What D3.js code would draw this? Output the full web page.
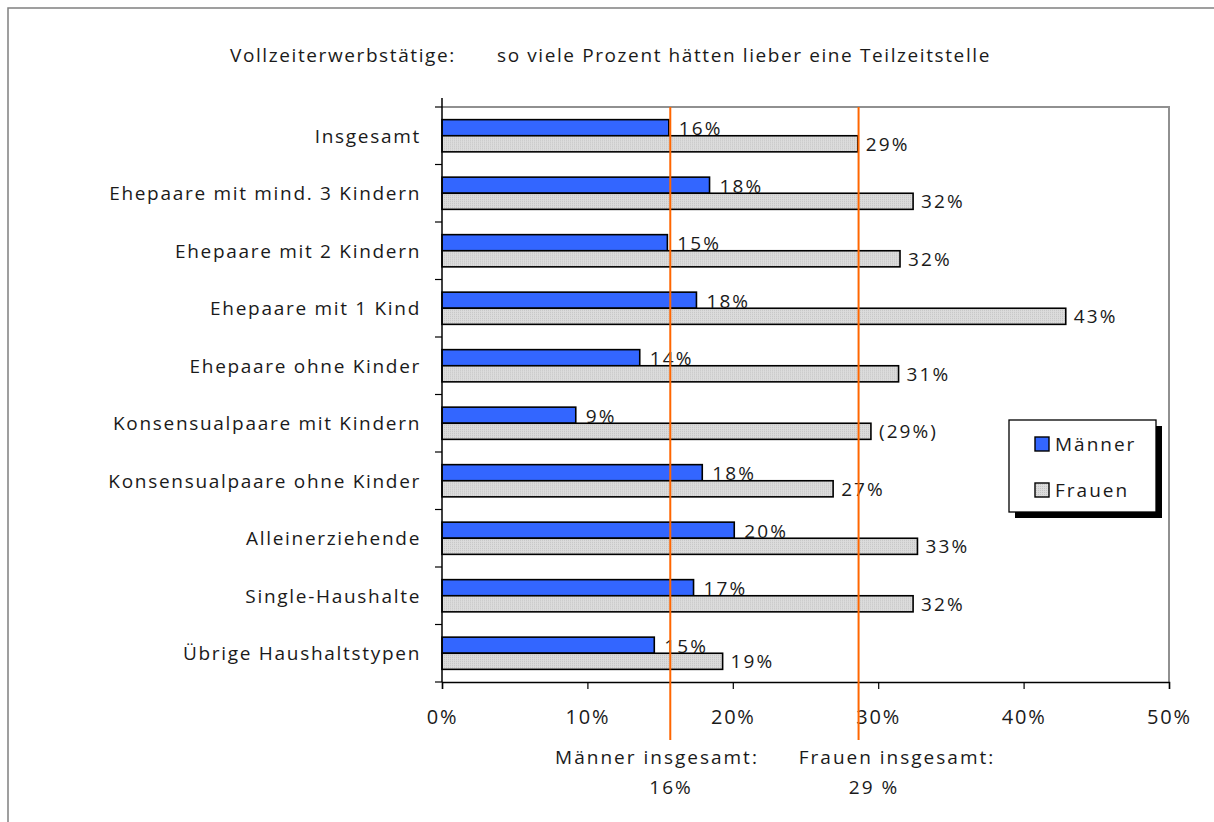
<!DOCTYPE html>
<html><head><meta charset="utf-8">
<script src="https://cdn.jsdelivr.net/npm/d3@7"></script>
<style>
body{margin:0;background:#fff;}
text{font-family:"Open Sans","DejaVu Sans",sans-serif;fill:#1a1a1a;}
</style></head>
<body>
<svg id="chart" width="1214" height="822"></svg>
<script>
const categories = ["Insgesamt","Ehepaare mit mind. 3 Kindern","Ehepaare mit 2 Kindern","Ehepaare mit 1 Kind","Ehepaare ohne Kinder","Konsensualpaare mit Kindern","Konsensualpaare ohne Kinder","Alleinerziehende","Single-Haushalte","Übrige Haushaltstypen"];
const maenner = [15.6,18.4,15.5,17.5,13.6,9.2,17.9,20.1,17.3,14.6];
const frauen = [28.6,32.4,31.5,42.9,31.4,29.5,26.9,32.7,32.4,19.3];
const maennerLabels = ["16%","18%","15%","18%","14%","9%","18%","20%","17%","15%"];
const frauenLabels = ["29%","32%","32%","43%","31%","(29%)","27%","33%","32%","19%"];
const xTicks = [0,10,20,30,40,50];
const seriesNames = ["Männer","Frauen"];
const refValues = [15.7,28.65];
const refLabels = [["Männer insgesamt:","16%"],["Frauen insgesamt:","29 %"]];
const titleParts = ["Vollzeiterwerbstätige:","so viele Prozent hätten lieber eine Teilzeitstelle"];

const svg = d3.select("#chart");
const defs = svg.append("defs");
const pat = defs.append("pattern").attr("id","dots").attr("width",2).attr("height",2).attr("patternUnits","userSpaceOnUse");
pat.append("rect").attr("width",2).attr("height",2).attr("fill","#dcdcdc");
pat.append("rect").attr("width",1).attr("height",1).attr("fill","#c4c4c4");

const FS = 19, LS = 1.7;

// outer frame
svg.append("rect").attr("x",8).attr("y",8).attr("width",1400).attr("height",1000)
  .attr("fill","none").attr("stroke","#808080").attr("stroke-width",1.5);

const pL=442, pR=1169, pT=107, pB=682;
const x = d3.scaleLinear().domain([0,50]).range([pL,pR]);
const y = d3.scaleBand().domain(categories).range([pT,pB]).paddingInner(0.44).paddingOuter(0.22);
const ySub = d3.scaleBand().domain(seriesNames).range([0,y.bandwidth()]);
const colors = {"Männer":"#3366ff","Frauen":"url(#dots)"};

// title
svg.append("text").attr("x",230).attr("y",62).attr("font-size",FS).attr("letter-spacing",1.6).text(titleParts[0]);
svg.append("text").attr("x",497).attr("y",62).attr("font-size",FS).attr("letter-spacing",1.6).text(titleParts[1]);

// plot frame top/right (gray)
svg.append("path").attr("d",`M${pL},${pT}H${pR}V${pB}`).attr("fill","none").attr("stroke","#909090").attr("stroke-width",2);

// bars
const rows = categories.map((c,i)=>({c, vals:[{s:"Männer",v:maenner[i],l:maennerLabels[i]},{s:"Frauen",v:frauen[i],l:frauenLabels[i]}]}));
const g = svg.selectAll("g.row").data(rows).enter().append("g").attr("class","row")
  .attr("transform",d=>`translate(0,${y(d.c)})`);
g.selectAll("rect").data(d=>d.vals).enter().append("rect")
  .attr("x",x(0)).attr("y",d=>ySub(d.s)).attr("width",d=>x(d.v)-x(0)).attr("height",ySub.bandwidth())
  .attr("fill",d=>colors[d.s]).attr("stroke","#000").attr("stroke-width",1.6);
g.selectAll("text.val").data(d=>d.vals).enter().append("text").attr("class","val")
  .attr("x",d=>x(d.v)+(d.s==="Männer"?10:8))
  .attr("y",d=>d.s==="Männer"?ySub(d.s)+ySub.bandwidth()-0.5:ySub(d.s)+ySub.bandwidth()/2+7)
  .attr("font-size",FS).attr("letter-spacing",2.1).text(d=>d.l);

// x axis
const xAxis = d3.axisBottom(x).tickValues(xTicks).tickFormat(d=>d+"%").tickSize(7).tickPadding(21);
const xg = svg.append("g").attr("transform",`translate(0,${pB})`).call(xAxis);
xg.select(".domain").attr("stroke","#000").attr("stroke-width",1.5);
xg.selectAll(".tick line").attr("stroke","#000").attr("stroke-width",1.2);
xg.selectAll(".tick text").attr("font-size",20).attr("letter-spacing",1.8).attr("fill","#1a1a1a").attr("font-family","Open Sans");

// y axis
const step = y.step();
const yg = svg.append("g");
yg.append("line").attr("x1",pL).attr("x2",pL).attr("y1",pT-9).attr("y2",pB).attr("stroke","#000").attr("stroke-width",1.5);
const boundaries = categories.map(c=>y(c)-(step-y.bandwidth())/2).concat([pB]);
yg.selectAll("line.tk").data(boundaries).enter().append("line").attr("class","tk")
  .attr("x1",pL-7).attr("x2",pL).attr("y1",d=>d).attr("y2",d=>d).attr("stroke","#000").attr("stroke-width",1.2);
yg.selectAll("text").data(categories).enter().append("text")
  .attr("x",421).attr("y",c=>y(c)+y.bandwidth()/2+7).attr("text-anchor","end")
  .attr("font-size",FS).attr("letter-spacing",LS).text(c=>c);

// reference lines
svg.selectAll("line.ref").data(refValues).enter().append("line").attr("class","ref")
  .attr("x1",d=>x(d)).attr("x2",d=>x(d)).attr("y1",pT).attr("y2",740)
  .attr("stroke","#ff6600").attr("stroke-width",2);
const refX = [[657,671],[897,874]];
refLabels.forEach((pair,i)=>{
  svg.append("text").attr("x",refX[i][0]).attr("y",764).attr("text-anchor","middle").attr("font-size",FS).attr("letter-spacing",2).text(pair[0]);
  svg.append("text").attr("x",refX[i][1]).attr("y",794).attr("text-anchor","middle").attr("font-size",FS).attr("letter-spacing",2).text(pair[1]);
});

// legend
const lg = svg.append("g");
lg.append("rect").attr("x",1015).attr("y",426).attr("width",147).attr("height",92).attr("fill","#000");
lg.append("rect").attr("x",1009).attr("y",420).attr("width",147).attr("height",92).attr("fill","#fff").attr("stroke","#000").attr("stroke-width",1.3);
seriesNames.forEach((s,i)=>{
  lg.append("rect").attr("x",1035).attr("y",437+i*46).attr("width",14).attr("height",14)
    .attr("fill",colors[s]).attr("stroke","#000").attr("stroke-width",1.4);
  lg.append("text").attr("x",1055).attr("y",451+i*46).attr("font-size",FS).attr("letter-spacing",2).text(s);
});
</script>
</body></html>
